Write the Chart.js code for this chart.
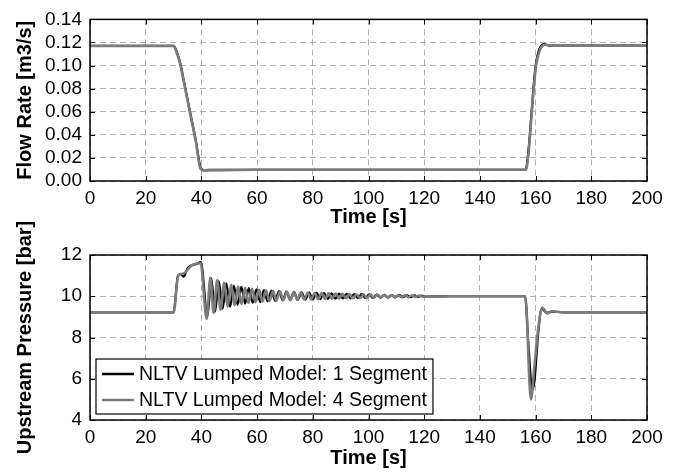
<!DOCTYPE html>
<html>
<head>
<meta charset="utf-8">
<script src="https://cdn.jsdelivr.net/npm/chart.js@4/dist/chart.umd.min.js"></script>
<style>
    html, body { margin: 0; padding: 0; background: #fff; }
    #wrap { position: relative; width: 688px; height: 472px; }
    #top { position: absolute; left: 0; top: 0; }
    #bot { position: absolute; left: 0; top: 196px; }
</style>
</head>
<body>
<div id="wrap">
    <canvas id="top" width="688" height="236"></canvas>
    <canvas id="bot" width="688" height="276"></canvas>
</div>
<script>
(function () {
    "use strict";

    // Axis ticks
    var timeTicks = [0, 20, 40, 60, 80, 100, 120, 140, 160, 180, 200];
    var flowTicks = [0, 0.02, 0.04, 0.06, 0.08, 0.10, 0.12, 0.14];
    var pressTicks = [4, 6, 8, 10, 12];

    var seriesNames = ["NLTV Lumped Model: 1 Segment", "NLTV Lumped Model: 4 Segment"];

    // Flow rate, 1 segment (black)
    var timeFlow1 = [0, 30, 31, 32.3, 34, 36, 38, 39.8, 41, 43, 60, 156.4, 157.5, 158.5, 159.5, 160.2, 161, 162, 163, 165, 200];
    var flow1 = [0.117, 0.117, 0.113, 0.103, 0.083, 0.059, 0.035, 0.011, 0.0092, 0.0095, 0.0097, 0.0097, 0.028, 0.058, 0.088, 0.103, 0.112, 0.117, 0.1185, 0.1172, 0.1172];

    // Flow rate, 4 segment (grey)
    var timeFlow4 = [0, 30, 31, 32.3, 34, 36, 38, 39.7, 41, 43, 60, 156.5, 157.5, 158.5, 159.5, 160.3, 161.2, 162.3, 163.5, 166, 200];
    var flow4 = [0.117, 0.117, 0.112, 0.102, 0.082, 0.058, 0.034, 0.0105, 0.0092, 0.0096, 0.0097, 0.0097, 0.025, 0.055, 0.085, 0.102, 0.111, 0.1168, 0.118, 0.1172, 0.1172];

    // Upstream pressure, 1 segment (black)
    var timePress1 = [0, 30, 31.6, 32.6, 33.6, 35.0, 36.5, 38.0, 39.8,
        42.2, 43.55, 44.9, 46.25, 47.6, 48.95, 50.3, 51.65, 53.0, 54.35,
        55.7, 57.05, 58.4, 59.75, 61.1, 62.45, 63.8, 65.15, 66.5, 67.85,
        69.2, 70.55, 71.9, 73.25, 74.6, 75.95, 77.3, 78.65, 80.0, 81.35,
        82.7, 84.05, 85.4, 86.75, 88.1, 89.45, 90.8, 92.15, 93.5, 94.85,
        96.2, 97.55, 98.9, 100.25, 101.6, 102.95, 104.3, 105.65, 107.0, 108.35,
        109.7, 111.05, 112.4, 113.75, 115.1, 116.45, 117.8, 119.15, 120.5,
        130, 140, 150, 156.2, 157.5, 158.8, 159.6, 161, 162.2, 164, 165.8, 170, 200];
    var press1 = [9.22, 9.22, 11.0, 11.08, 10.95, 11.35, 11.5, 11.55, 11.65,
        9.05, 10.87, 9.25, 10.74, 9.4, 10.62, 9.5, 10.52, 9.58, 10.45,
        9.64, 10.39, 9.69, 10.34, 9.72, 10.3, 9.75, 10.27, 9.78, 10.25,
        9.8, 10.23, 9.81, 10.21, 9.83, 10.19, 9.84, 10.18, 9.85, 10.16,
        9.86, 10.15, 9.87, 10.14, 9.88, 10.13, 9.89, 10.12, 9.9, 10.11,
        9.91, 10.1, 9.92, 10.09, 9.92, 10.08, 9.93, 10.07, 9.94, 10.06,
        9.95, 10.05, 9.96, 10.04, 9.96, 10.04, 9.97, 10.03, 9.98,
        10.0, 10.0, 10.0, 10.0, 7.5, 5.45, 5.9, 8.3, 9.4, 9.2, 9.25, 9.22, 9.22];

    // Upstream pressure, 4 segment (grey)
    var timePress4 = [0, 30, 31.7, 33.5, 36.5, 39.7,
        41.9, 43.2, 44.4, 45.7, 46.9, 48.2, 49.4, 50.7, 51.9, 53.2,
        54.4, 55.7, 56.9, 58.2, 59.4, 60.7, 61.9, 63.2, 64.4, 65.7,
        66.9, 68.2, 69.4, 70.7, 71.9, 73.2, 74.4, 75.7, 76.9, 78.2,
        79.4, 80.7, 81.9, 83.2, 84.4, 85.7, 86.9, 88.2, 89.4, 90.7,
        91.9, 93.2, 94.4, 95.7, 96.9, 98.2, 99.4, 100.7, 101.9, 103.2,
        104.4, 105.7, 106.9, 108.2, 109.4, 110.7, 111.9, 113.2, 114.4, 115.7,
        116.9, 118.2, 119.4,
        130, 140, 150, 156.3, 158.3, 159.5, 161, 162.4, 164.2, 165.8, 170, 200];
    var press4 = [9.22, 9.22, 11.0, 11.1, 11.5, 11.6,
        8.9, 10.9, 9.2, 10.78, 9.35, 10.65, 9.48, 10.55, 9.56, 10.47,
        9.62, 10.41, 9.67, 10.36, 9.71, 10.32, 9.74, 10.29, 9.77, 10.26,
        9.79, 10.24, 9.81, 10.22, 9.82, 10.2, 9.83, 10.18, 9.84, 10.17,
        9.85, 10.16, 9.86, 10.15, 9.87, 10.14, 9.88, 10.13, 9.89, 10.12,
        9.9, 10.11, 9.9, 10.1, 9.91, 10.09, 9.92, 10.08, 9.93, 10.08,
        9.94, 10.07, 9.94, 10.06, 9.95, 10.05, 9.95, 10.05, 9.96, 10.04,
        9.97, 10.03, 9.98,
        10.0, 10.0, 10.0, 10.0, 5.0, 6.5, 8.5, 9.45, 9.17, 9.27, 9.22, 9.22];

    var FONT = '"Liberation Sans", Arial, Helvetica, sans-serif';
    var BLACK = "#000000";
    var GREY = "#7c7c7c";

    function pairs(xs, ys) {
        return xs.map(function (x, i) { return {x: x, y: ys[i]}; });
    }

    function fixedTicks(values) {
        return function (scale) {
            scale.ticks = values.map(function (v) { return {value: v}; });
        };
    }

    // black box round the plot area, with short inward tick marks
    var framePlugin = {
        id: "frame",
        afterDatasetsDraw: function (chart) {
            var a = chart.chartArea, ctx = chart.ctx;
            var sx = chart.scales.x, sy = chart.scales.y;
            ctx.save();
            ctx.strokeStyle = "#000";
            ctx.lineWidth = 1;
            ctx.beginPath();
            sx.ticks.forEach(function (t) {
                var px = Math.round(sx.getPixelForValue(t.value)) + 0.5;
                ctx.moveTo(px, a.bottom); ctx.lineTo(px, a.bottom - 5);
                ctx.moveTo(px, a.top); ctx.lineTo(px, a.top + 5);
            });
            sy.ticks.forEach(function (t) {
                var py = Math.round(sy.getPixelForValue(t.value)) + 0.5;
                ctx.moveTo(a.left, py); ctx.lineTo(a.left + 5, py);
                ctx.moveTo(a.right, py); ctx.lineTo(a.right - 5, py);
            });
            ctx.stroke();
            ctx.lineWidth = 1.5;
            ctx.strokeRect(a.left, a.top, a.right - a.left, a.bottom - a.top);
            ctx.restore();
        }
    };

    // legend box in the lower left of the pressure plot
    var legendPlugin = {
        id: "boxLegend",
        afterDatasetsDraw: function (chart) {
            var a = chart.chartArea, ctx = chart.ctx;
            var x0 = a.left + 6, y0 = a.top + 104;
            var colors = [BLACK, GREY];
            ctx.save();
            ctx.font = "19.5px " + FONT;
            var w = 0;
            seriesNames.forEach(function (n) { w = Math.max(w, ctx.measureText(n).width); });
            var bw = 43 + w + 6, bh = 55;
            ctx.fillStyle = "#fff";
            ctx.fillRect(x0, y0, bw, bh);
            ctx.strokeStyle = "#000";
            ctx.lineWidth = 1.2;
            ctx.strokeRect(x0, y0, bw, bh);
            ctx.textBaseline = "middle";
            seriesNames.forEach(function (n, i) {
                var cy = y0 + 15 + i * 26;
                ctx.strokeStyle = colors[i];
                ctx.lineWidth = 2.5;
                ctx.beginPath();
                ctx.moveTo(x0 + 6, cy);
                ctx.lineTo(x0 + 38, cy);
                ctx.stroke();
                ctx.fillStyle = "#000";
                ctx.fillText(n, x0 + 43, cy + 1);
            });
            ctx.restore();
        }
    };

    function lineSet(label, data, color, width, order) {
        return {
            label: label,
            data: data,
            borderColor: color,
            backgroundColor: color,
            borderWidth: width,
            pointRadius: 0,
            fill: false,
            cubicInterpolationMode: "monotone",
            order: order
        };
    }

    function buildOptions(o) {
        return {
            responsive: false,
            animation: false,
            layout: {padding: {left: 0, right: 41, top: o.top, bottom: 0}},
            plugins: {legend: {display: false}, tooltip: {enabled: false}},
            scales: {
                x: {
                    type: "linear",
                    min: 0, max: 200,
                    afterBuildTicks: fixedTicks(timeTicks),
                    afterFit: function (s) { s.height = o.xHeight; },
                    grid: {color: "#b0b0b0", lineWidth: 1, drawTicks: false},
                    border: {display: false, dash: [6, 4]},
                    ticks: {color: "#000", padding: 6, autoSkip: false, maxRotation: 0,
                        font: {family: FONT, size: 19}},
                    title: {display: true, text: "Time [s]", color: "#000",
                        font: {family: FONT, size: 20, weight: "bold"},
                        padding: {top: 0, bottom: o.titleBottom}}
                },
                y: {
                    min: o.yMin, max: o.yMax,
                    afterBuildTicks: fixedTicks(o.yTicks),
                    afterFit: function (s) { s.width = 90; },
                    grid: {color: "#b0b0b0", lineWidth: 1, drawTicks: false},
                    border: {display: false, dash: [6, 4]},
                    ticks: {color: "#000", padding: 8, autoSkip: false,
                        font: {family: FONT, size: 19}, callback: o.fmt},
                    title: {display: true, text: o.yTitle, color: "#000",
                        font: {family: FONT, size: 20, weight: "bold"},
                        padding: {top: 13, bottom: 0}}
                }
            }
        };
    }

    // Flow rate chart
    new Chart(document.getElementById("top").getContext("2d"), {
        type: "line",
        data: {
            datasets: [
                lineSet(seriesNames[0], pairs(timeFlow1, flow1), BLACK, 2.2, 1),
                lineSet(seriesNames[1], pairs(timeFlow4, flow4), GREY, 2.6, 0)
            ]
        },
        options: buildOptions({
            top: 15, xHeight: 55, titleBottom: 7,
            yMin: 0, yMax: 0.14, yTicks: flowTicks, yTitle: "Flow Rate [m3/s]",
            fmt: function (v) { return Number(v).toFixed(2); }
        }),
        plugins: [framePlugin]
    });

    // Upstream pressure chart
    new Chart(document.getElementById("bot").getContext("2d"), {
        type: "line",
        data: {
            datasets: [
                lineSet(seriesNames[0], pairs(timePress1, press1), BLACK, 2.2, 1),
                lineSet(seriesNames[1], pairs(timePress4, press4), GREY, 2.6, 0)
            ]
        },
        options: buildOptions({
            top: 59, xHeight: 52, titleBottom: 2,
            yMin: 4, yMax: 12, yTicks: pressTicks, yTitle: "Upstream Pressure [bar]",
            fmt: function (v) { return String(v); }
        }),
        plugins: [framePlugin, legendPlugin]
    });
})();
</script>
</body>
</html>
